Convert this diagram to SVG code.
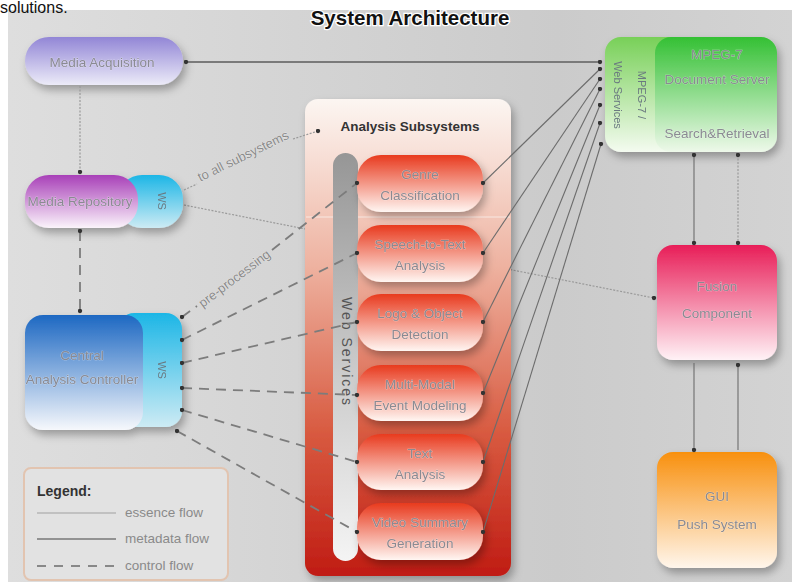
<svg xmlns="http://www.w3.org/2000/svg" width="792" height="582" viewBox="0 0 792 582">
<style>
.nt{font-family:"Liberation Sans",Arial,sans-serif;font-size:13.5px;fill:#8a8a92;text-anchor:middle;stroke:#ffffff;stroke-width:0.6px;stroke-opacity:0.5;paint-order:stroke}
.tab{font-family:"Liberation Sans",Arial,sans-serif;font-size:11px;fill:#6a7880;text-anchor:middle}
.ess{fill:none;stroke:#9a9a9a;stroke-width:1.2;stroke-dasharray:2,1.5}
.meta{fill:none;stroke:#6c6c6c;stroke-width:1.1}
.metaB{fill:none;stroke:#7a7a7a;stroke-width:2}
.ctl{fill:none;stroke:#7c7c7c;stroke-width:1.8;stroke-dasharray:10,7}
.lbl{font-family:"Liberation Sans",Arial,sans-serif;font-size:13px;fill:#8a8a8a;text-anchor:middle;stroke:#fff;stroke-width:0.6px;stroke-opacity:0.6;paint-order:stroke}
.lg{font-family:"Liberation Sans",Arial,sans-serif;font-size:13.5px;fill:#8a8a8a}
</style>
<defs>
<linearGradient id="bg" x1="0" y1="0" x2="1" y2="0">
<stop offset="0" stop-color="#dedede"/><stop offset="0.7" stop-color="#cbcbcb"/><stop offset="1" stop-color="#d3d3d3"/>
</linearGradient>
<linearGradient id="gAcq" x1="0" y1="0" x2="0" y2="1"><stop offset="0" stop-color="#9286d6"/><stop offset="1" stop-color="#ecebf8"/></linearGradient>
<linearGradient id="gRep" x1="0" y1="0" x2="0" y2="1"><stop offset="0" stop-color="#a840b8"/><stop offset="1" stop-color="#fbf4fb"/></linearGradient>
<linearGradient id="gCyan" x1="0" y1="0" x2="0" y2="1"><stop offset="0" stop-color="#1cb6e6"/><stop offset="1" stop-color="#cdebf4"/></linearGradient>
<linearGradient id="gCtl" x1="0" y1="0" x2="0" y2="1"><stop offset="0" stop-color="#1d68c2"/><stop offset="1" stop-color="#f6f8fc"/></linearGradient>
<linearGradient id="gCont" x1="0" y1="0" x2="0" y2="1"><stop offset="0" stop-color="#fcf6f2"/><stop offset="0.35" stop-color="#eeb2a0"/><stop offset="0.7" stop-color="#d85a40"/><stop offset="1" stop-color="#c01c14"/></linearGradient>
<linearGradient id="gPill" x1="0" y1="0" x2="0" y2="1"><stop offset="0" stop-color="#e83a1e"/><stop offset="1" stop-color="#fff6f2"/></linearGradient>
<linearGradient id="gWS" x1="0" y1="0" x2="0" y2="1"><stop offset="0" stop-color="#969696"/><stop offset="0.5" stop-color="#c8c8c8"/><stop offset="1" stop-color="#f4f4f4"/></linearGradient>
<linearGradient id="gSrv" x1="0" y1="0" x2="0" y2="1"><stop offset="0" stop-color="#34c034"/><stop offset="1" stop-color="#eef9ea"/></linearGradient>
<linearGradient id="gSrvT" x1="0" y1="0" x2="0" y2="1"><stop offset="0" stop-color="#78d058"/><stop offset="1" stop-color="#f4fbf0"/></linearGradient>
<linearGradient id="gFus" x1="0" y1="0" x2="0" y2="1"><stop offset="0" stop-color="#e81e58"/><stop offset="1" stop-color="#fff2f6"/></linearGradient>
<linearGradient id="gGui" x1="0" y1="0" x2="0" y2="1"><stop offset="0" stop-color="#f8900e"/><stop offset="1" stop-color="#fff6ec"/></linearGradient>
<filter id="sh" x="-20%" y="-20%" width="150%" height="160%"><feDropShadow dx="3" dy="5" stdDeviation="4" flood-color="#000" flood-opacity="0.3"/></filter>
<marker id="dot" viewBox="0 0 6 6" refX="3" refY="3" markerWidth="5" markerHeight="5" markerUnits="userSpaceOnUse"><circle cx="3" cy="3" r="2.6" fill="#333"/></marker>
</defs>

<rect x="0" y="0" width="792" height="582" fill="#ffffff"/>
<rect x="8" y="10" width="784" height="572" fill="url(#bg)"/>
<text x="0" y="13" font-family="Liberation Sans,Arial,sans-serif" font-size="16" fill="#111">solutions.</text>
<text x="410" y="25" font-family="Liberation Sans,Arial,sans-serif" font-size="20.5" font-weight="bold" text-anchor="middle" fill="#111" stroke="#fff" stroke-width="2.5" paint-order="stroke">System Architecture</text>

<g id="connectors-back">
<path class="ess" d="M184,205 L654,298" marker-end="url(#dot)"/>
</g>

<g id="analysis-subsystems">
<rect x="305" y="99" width="206" height="477" rx="13" fill="url(#gCont)" filter="url(#sh)"/>
<line x1="306" y1="217" x2="510" y2="217" stroke="#f6dcd4" stroke-width="1.5"/>
<text x="410" y="131" font-family="Liberation Sans,Arial,sans-serif" font-size="13.5" font-weight="bold" text-anchor="middle" fill="#333">Analysis Subsystems</text>
<rect x="333" y="153" width="25" height="408" rx="12.5" fill="url(#gWS)"/>
<text transform="translate(342,352) rotate(90)" font-family="Liberation Sans,Arial,sans-serif" font-size="14" text-anchor="middle" fill="#555" letter-spacing="2">Web Services</text>
</g>
<g id="genre" filter="url(#sh)"><rect x="357" y="155" width="126" height="57" rx="24" fill="url(#gPill)"/><text class="nt" x="420" y="179">Genre</text><text class="nt" x="420" y="200">Classification</text></g>
<g id="speech" filter="url(#sh)"><rect x="357" y="225" width="126" height="57" rx="24" fill="url(#gPill)"/><text class="nt" x="420" y="249">Speech-to-Text</text><text class="nt" x="420" y="270">Analysis</text></g>
<g id="logo" filter="url(#sh)"><rect x="357" y="294" width="126" height="57" rx="24" fill="url(#gPill)"/><text class="nt" x="420" y="318">Logo &amp; Object</text><text class="nt" x="420" y="339">Detection</text></g>
<g id="multimodal" filter="url(#sh)"><rect x="357" y="365" width="126" height="56" rx="24" fill="url(#gPill)"/><text class="nt" x="420" y="389">Multi-Modal</text><text class="nt" x="420" y="410">Event Modeling</text></g>
<g id="text-analysis" filter="url(#sh)"><rect x="357" y="434" width="126" height="56" rx="24" fill="url(#gPill)"/><text class="nt" x="420" y="458">Text</text><text class="nt" x="420" y="479">Analysis</text></g>
<g id="video-summary" filter="url(#sh)"><rect x="357" y="503" width="126" height="57" rx="24" fill="url(#gPill)"/><text class="nt" x="420" y="527">Video Summary</text><text class="nt" x="420" y="548">Generation</text></g>

<g id="media-acquisition" filter="url(#sh)"><rect x="25" y="37" width="158" height="48" rx="24" fill="url(#gAcq)"/><text class="nt" x="102" y="67">Media Acquisition</text></g>

<g id="media-repository" filter="url(#sh)">
<rect x="118" y="175" width="65" height="53" rx="24" fill="url(#gCyan)"/>
<rect x="25" y="175" width="113" height="53" rx="24" fill="url(#gRep)"/>
<text class="nt" x="80" y="206">Media Repository</text>
<text class="tab" transform="translate(158,201) rotate(90)">WS</text>
</g>

<g id="analysis-controller" filter="url(#sh)">
<rect x="118" y="313" width="64" height="114" rx="16" fill="url(#gCyan)"/>
<rect x="25" y="315" width="118" height="115" rx="18" fill="url(#gCtl)"/>
<text class="nt" x="82" y="360">Central</text>
<text class="nt" x="82" y="384">Analysis Controller</text>
<text class="tab" transform="translate(158,370) rotate(90)">WS</text>
</g>

<g id="mpeg7-server" filter="url(#sh)">
<rect x="605" y="37" width="80" height="115" rx="16" fill="url(#gSrvT)"/>
<rect x="655" y="37" width="122" height="115" rx="16" fill="url(#gSrv)"/>
<text class="nt" x="717" y="59">MPEG-7</text>
<text class="nt" x="717" y="84">Document Server</text>
<text class="nt" x="717" y="138" fill="#707070">Search&amp;Retrieval</text>
<text class="tab" transform="translate(614,95) rotate(90)" font-size="12" fill="#667060">Web Services</text>
<text class="tab" transform="translate(638,95) rotate(90)" font-size="12" fill="#667060">MPEG-7 /</text>
</g>

<g id="fusion-component" filter="url(#sh)"><rect x="657" y="245" width="120" height="115" rx="16" fill="url(#gFus)"/><text class="nt" x="717" y="291">Fusion</text><text class="nt" x="717" y="318">Component</text></g>
<g id="gui-push-system" filter="url(#sh)"><rect x="657" y="452" width="120" height="116" rx="16" fill="url(#gGui)"/><text class="nt" x="717" y="501">GUI</text><text class="nt" x="717" y="529">Push System</text></g>

<g id="connectors">
<path class="metaB" d="M186,62 L600,62" marker-start="url(#dot)" marker-end="url(#dot)"/>
<path class="ess" d="M80,86 L80,172" marker-end="url(#dot)"/>
<path class="ctl" d="M80,231 L80,311" marker-start="url(#dot)" marker-end="url(#dot)"/>
<path class="ess" d="M184,190 L197,184"/>
<path class="ess" d="M293,139 L318,131" marker-end="url(#dot)"/>
<text class="lbl" transform="translate(245,160) rotate(-26)">to all subsystems</text>
<path class="ctl" d="M182,317 L197,306" marker-start="url(#dot)"/>
<path class="ctl" d="M272,250 L357,183" marker-end="url(#dot)"/>
<text class="lbl" transform="translate(237,282) rotate(-37)">pre-processing</text>
<path class="ctl" d="M182,340 L357,253" marker-start="url(#dot)" marker-end="url(#dot)"/>
<path class="ctl" d="M182,363 L357,322" marker-start="url(#dot)" marker-end="url(#dot)"/>
<path class="ctl" d="M182,388 L357,395" marker-start="url(#dot)" marker-end="url(#dot)"/>
<path class="ctl" d="M182,410 L357,462" marker-start="url(#dot)" marker-end="url(#dot)"/>
<path class="ctl" d="M177,431 L357,532" marker-start="url(#dot)" marker-end="url(#dot)"/>
<path class="meta" d="M483,183 L600,69" marker-start="url(#dot)" marker-end="url(#dot)"/>
<path class="meta" d="M483,253 L600,79" marker-start="url(#dot)" marker-end="url(#dot)"/>
<path class="meta" d="M483,322 L600,89" marker-start="url(#dot)" marker-end="url(#dot)"/>
<path class="meta" d="M483,393 L600,105" marker-start="url(#dot)" marker-end="url(#dot)"/>
<path class="meta" d="M483,462 L600,123" marker-start="url(#dot)" marker-end="url(#dot)"/>
<path class="meta" d="M483,532 L601,144" marker-start="url(#dot)" marker-end="url(#dot)"/>
<path class="meta" d="M694,155 L694,243" marker-start="url(#dot)" marker-end="url(#dot)"/>
<path class="ess" d="M738,155 L738,243" marker-start="url(#dot)" marker-end="url(#dot)"/>
<path class="meta" d="M694,363 L694,450" marker-end="url(#dot)"/>
<path class="meta" d="M738,450 L738,365" marker-end="url(#dot)"/>
</g>

<g id="legend">
<rect x="24" y="468" width="204" height="112" rx="7" fill="#e2e2e2" stroke="#e2c4b0" stroke-width="2"/>
<text x="37" y="496" font-family="Liberation Sans,Arial,sans-serif" font-size="14" font-weight="bold" fill="#333">Legend:</text>
<line x1="37" y1="513" x2="116" y2="513" stroke="#a0a0a0" stroke-width="1"/>
<text class="lg" x="125" y="517">essence flow</text>
<line x1="37" y1="539" x2="116" y2="539" stroke="#777" stroke-width="1.5"/>
<text class="lg" x="125" y="543">metadata flow</text>
<line x1="37" y1="566" x2="116" y2="566" stroke="#888" stroke-width="2" stroke-dasharray="9,8"/>
<text class="lg" x="125" y="570">control flow</text>
</g>
</svg>
